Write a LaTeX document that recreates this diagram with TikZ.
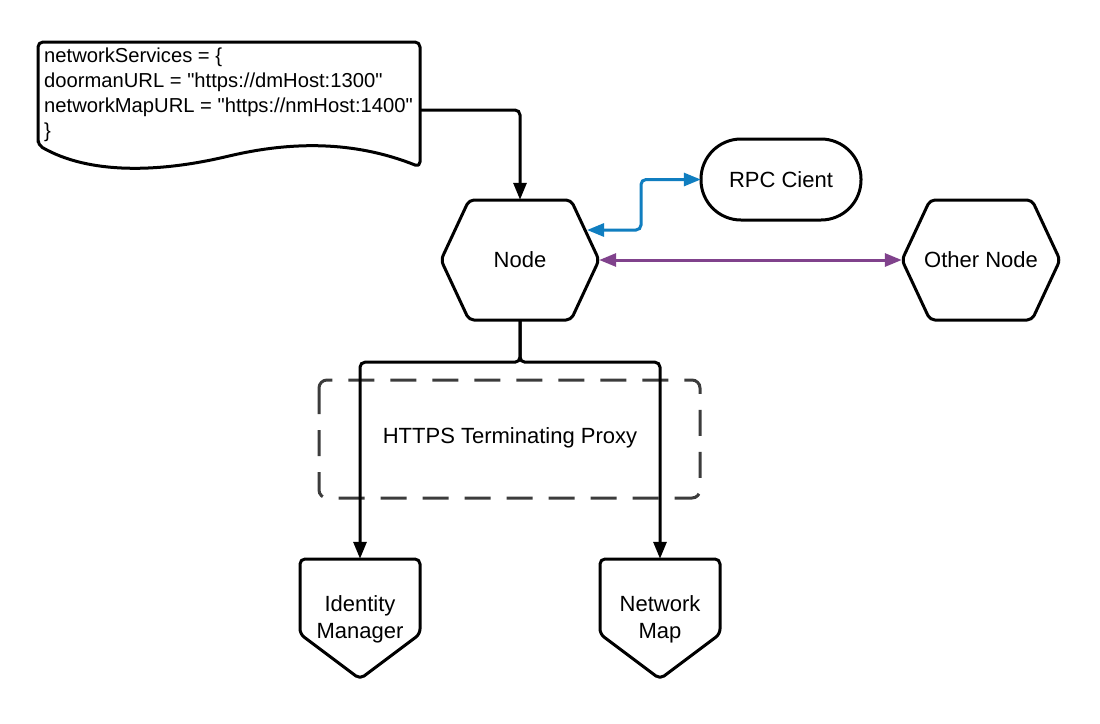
\documentclass[tikz,border=0pt]{standalone}
\usepackage{fontspec}
\setmainfont{Liberation Sans}[Ligatures=TeXOff]
\usetikzlibrary{arrows.meta}
\definecolor{rpcblue}{RGB}{16,126,192}
\definecolor{peerpurple}{RGB}{128,66,140}
\definecolor{proxygray}{RGB}{60,60,60}
\begin{document}
\begin{tikzpicture}[x=1pt,y=-1pt,
  shapeline/.style={draw=black, line width=3pt, rounded corners=5pt, line join=round},
  lbl/.style={font=\fontsize{22}{27}\selectfont, align=center, inner sep=0pt},
  conn/.style={line width=3pt, rounded corners=5pt, -{Triangle[length=17pt,width=13pt]}},
  biconn/.style={line width=3pt, rounded corners=5pt, {Triangle[length=17pt,width=13pt]}-{Triangle[length=17pt,width=13pt]}},
  proxybox/.style={draw=proxygray, line width=3pt, rounded corners=8pt, dash pattern=on 26pt off 16pt}]
\useasboundingbox (0,0) rectangle (1100,723);
\fill[white] (0,0) rectangle (1100,723);

% document shape
\draw[shapeline] (38,145) -- (38,42) -- (420,42) -- (420,167)
  .. controls (360,143) and (300,140) .. (229,156)
  .. controls (160,172) and (90,175) .. (38,145) -- cycle;
\node[anchor=north west, align=left, inner sep=0pt,
  font=\fontsize{20.2}{25}\selectfont] (doc) at (44,47)
  {\rule{0pt}{15pt}networkServices = \{\\
   doormanURL = "https://dmHost:1300"\\
   networkMapURL = "https://nmHost:1400"\\
   \}};
\coordinate (docR) at (420,110);

% Node hexagon
\draw[shapeline] (441,260) -- (469,200) -- (571,200) -- (599,260) -- (571,320) -- (469,320) -- cycle;
\node[lbl, minimum width=158pt, minimum height=120pt] (node) at (520,260) {Node};
\coordinate (nodeRPC) at (587,230);

% RPC client
\draw[shapeline, rounded corners=40pt] (701,139) rectangle (861,220);
\node[lbl, minimum width=160pt, minimum height=81pt] (rpc) at (781,179.5) {RPC Cient};

% Other node hexagon
\draw[shapeline] (902,260) -- (930,200) -- (1032,200) -- (1060,260) -- (1032,320) -- (930,320) -- cycle;
\node[lbl, minimum width=158pt, minimum height=120pt] (other) at (981,260) {Other Node};

% proxy box
\draw[proxybox] (319,380) rectangle (700,498);
\node[lbl] (proxy) at (510,438) {HTTPS Terminating Proxy};

% Identity Manager
\draw[shapeline] (300,559) -- (420,559) -- (420,634) -- (360,679) -- (300,634) -- cycle;
\node[lbl, minimum width=120pt, minimum height=120pt] (idm) at (360,619) {Identity\\Manager};

% Network Map
\draw[shapeline] (600,559) -- (720,559) -- (720,634) -- (660,679) -- (600,634) -- cycle;
\node[lbl, minimum width=120pt, minimum height=120pt] (nmap) at (660,619) {Network\\Map};

% connectors
\draw[conn] (docR) -| (node.north);
\draw[biconn, draw=rpcblue] (nodeRPC) -- ++(54,0) |- (rpc.west);
\draw[biconn, draw=peerpurple] (node.east) -- (other.west);
\draw[conn] (node.south) -- ++(0,42) -| (idm.north);
\draw[conn] (node.south) -- ++(0,42) -| (nmap.north);
\end{tikzpicture}
\end{document}
